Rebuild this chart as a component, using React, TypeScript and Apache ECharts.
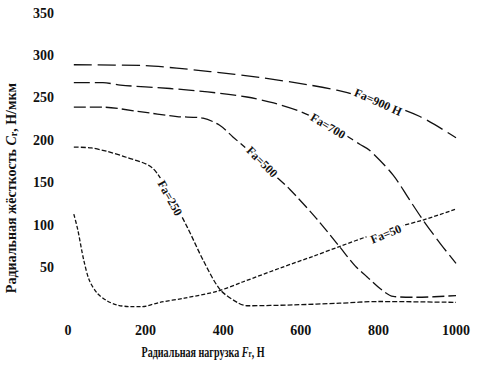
import React, { useEffect, useRef } from "react";
import * as echarts from "echarts";

// Radial load Fr, N (x) vs radial stiffness Cr, N/µm (y)
const fa900: [number, number][] = [
  [15, 289], [200, 288], [280, 285], [366, 281], [495, 274], [624, 265],
  [693, 259], [800, 246], [907, 228], [1000, 203],
];
const fa700: [number, number][] = [
  [15, 268], [90, 268], [135, 265], [263, 261], [360, 257], [461, 251],
  [530, 244], [598, 234], [680, 216], [753, 195], [778, 188], [838, 159],
  [880, 130], [915, 106], [960, 78], [1000, 55],
];
const fa500: [number, number][] = [
  [15, 239], [90, 239], [180, 234], [281, 228], [348, 226], [390, 218],
  [425, 204], [480, 182], [530, 160], [572, 142], [640, 108], [701, 74],
  [740, 52], [771, 39], [805, 25], [838, 16], [900, 15], [1000, 17],
];
const fa250: [number, number][] = [
  [15, 192], [60, 191], [100, 187], [150, 180], [216, 168], [260, 138],
  [307, 98], [348, 59], [392, 24], [436, 9], [461, 5], [580, 6],
  [700, 8], [800, 10], [1000, 9],
];
const fa50: [number, number][] = [
  [15, 113], [25, 95], [40, 60], [55, 35], [75, 20], [100, 11], [126, 6],
  [160, 4], [190, 4], [237, 9], [300, 14], [384, 22], [450, 33], [550, 50],
  [630, 63], [701, 75], [780, 88], [850, 98], [915, 106], [1000, 119],
];

const seriesNames = ["Fa=900 Н", "Fa=700", "Fa=500", "Fa=250", "Fa=50"];
const seriesData = [fa900, fa700, fa500, fa250, fa50];
const dashes = [[18, 6], [16, 5], [12, 4], [5, 2], [4, 2]];

const FONT = "'Liberation Serif', 'DejaVu Serif', serif";

export default function App() {
  const ref = useRef<HTMLDivElement>(null);
  useEffect(() => {
    if (!ref.current) return;
    const chart = echarts.init(ref.current, undefined, { renderer: "svg" });
    const labelStyle = {
      fontFamily: FONT,
      fontWeight: "bold" as const,
      fontSize: 12,
      fill: "#111",
      align: "center" as const,
      verticalAlign: "middle" as const,
      backgroundColor: "#fff",
      padding: [1, 3],
    };
    const curveLabels = [
      { text: seriesNames[0], x: 378, y: 102, r: -24 },
      { text: seriesNames[1], x: 328, y: 126, r: -31 },
      { text: seriesNames[2], x: 262, y: 162, r: -45 },
      { text: seriesNames[3], x: 170, y: 198, r: -61 },
      { text: seriesNames[4], x: 386, y: 234, r: 22 },
    ];
    chart.setOption({
      animation: false,
      backgroundColor: "#fff",
      grid: { left: 68, right: 21, top: 13, bottom: 56, containLabel: false },
      xAxis: {
        type: "value",
        min: 0,
        max: 1000,
        interval: 200,
        axisLine: { show: false },
        axisTick: { show: false },
        splitLine: { show: false },
        axisLabel: {
          margin: 13,
          color: "#111",
          fontFamily: FONT,
          fontWeight: "bold",
          fontSize: 14,
          formatter: (v: number) => String(v),
        },
      },
      yAxis: {
        type: "value",
        min: 0,
        max: 350,
        interval: 50,
        axisLine: { show: false },
        axisTick: { show: false },
        splitLine: { show: false },
        axisLabel: {
          margin: 14,
          color: "#111",
          fontFamily: FONT,
          fontWeight: "bold",
          fontSize: 14,
          formatter: (v: number) => (v === 0 ? "" : String(v)),
        },
      },
      series: seriesData.map((d, i) => ({
        name: seriesNames[i],
        type: "line",
        data: d,
        smooth: 0.3,
        showSymbol: false,
        lineStyle: { color: "#111", width: 1.3, type: dashes[i] },
        z: 2,
      })),
      graphic: [
        ...curveLabels.map((l) => ({
          type: "text",
          x: l.x,
          y: l.y,
          rotation: (l.r * Math.PI) / 180,
          z: 100,
          style: { ...labelStyle, text: l.text },
        })),
        {
          type: "text",
          x: 11,
          y: 188,
          rotation: Math.PI / 2,
          style: {
            text: "Радиальная жёсткость {i|C}{s|r}, Н/мкм",
            fontFamily: FONT,
            fontWeight: "bold",
            fontSize: 14,
            fill: "#111",
            align: "center",
            verticalAlign: "middle",
            rich: {
              i: { fontStyle: "italic", fontFamily: FONT, fontWeight: "bold", fontSize: 14, fill: "#111" },
              s: { fontFamily: FONT, fontWeight: "bold", fontSize: 10, fill: "#111", verticalAlign: "bottom" },
            },
          },
        },
        {
          type: "text",
          x: 203,
          y: 352,
          scaleX: 0.72,
          style: {
            text: "Радиальная нагрузка {i|F}{s|r}, Н",
            fontFamily: FONT,
            fontWeight: "bold",
            fontSize: 14,
            fill: "#111",
            align: "center",
            verticalAlign: "middle",
            rich: {
              i: { fontStyle: "italic", fontFamily: FONT, fontWeight: "bold", fontSize: 14, fill: "#111" },
              s: { fontFamily: FONT, fontWeight: "bold", fontSize: 10, fill: "#111", verticalAlign: "bottom" },
            },
          },
        },
      ],
    });
    return () => chart.dispose();
  }, []);
  return <div ref={ref} style={{ width: 477, height: 366, position: "absolute", left: 0, top: 0 }} />;
}
